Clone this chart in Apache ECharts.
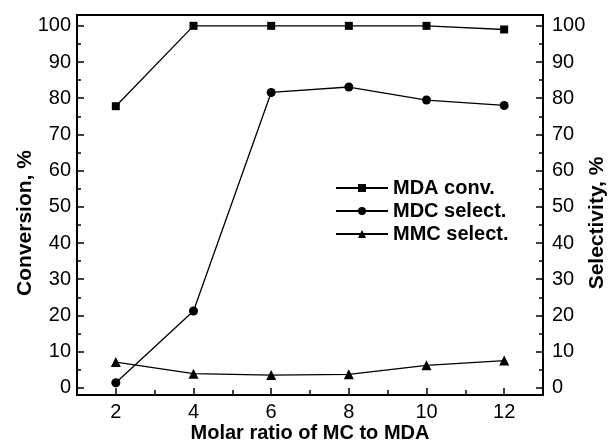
<!DOCTYPE html>
<html>
<head>
<meta charset="utf-8">
<script src="https://cdn.jsdelivr.net/npm/echarts@6/dist/echarts.min.js"></script>
<style>
  html, body { margin: 0; padding: 0; background: #fff; }
  #chart { width: 609px; height: 442px; }
</style>
</head>
<body>
<div id="chart"></div>
<script>
// molar ratio MC : MDA
var ratios = [2, 4, 6, 8, 10, 12];
// values, %
var mdaConv = [77.8, 100, 100, 100, 100, 99.0];
var mdcSelect = [1.4, 21.2, 81.6, 83.1, 79.5, 78.0];
var mmcSelect = [7.1, 3.9, 3.5, 3.7, 6.2, 7.5];

var seriesNames = ['MDA conv.', 'MDC select.', 'MMC select.'];
var yLabels = [0, 10, 20, 30, 40, 50, 60, 70, 80, 90, 100];
var yMinor = [5, 15, 25, 35, 45, 55, 65, 75, 85, 95];
var xLabels = [2, 4, 6, 8, 10, 12];
var xMinor = [3, 5, 7, 9, 11];

function pairs(vals) {
  return ratios.map(function (r, i) { return [r, vals[i]]; });
}

var chart = echarts.init(document.getElementById('chart'));
var font = 'Liberation Sans, Arial, sans-serif';
var titleStyle = { fontFamily: font, fontSize: 21, fontWeight: 'bold', color: '#000' };

function yAxisCfg(pos, title, gap, margin) {
  return {
    type: 'value',
    position: pos,
    min: -2,
    max: 103,
    name: title,
    nameLocation: 'middle',
    nameGap: gap,
    nameMoveOverlap: false,
    nameTextStyle: Object.assign({ padding: [0, 36, 0, 0] }, titleStyle),
    axisLine: { show: true, lineStyle: { color: '#000', width: 2 } },
    axisTick: { show: true, inside: true, length: 7, customValues: yLabels, lineStyle: { color: '#000', width: 1.5 } },
    axisLabel: { customValues: yLabels, fontFamily: font, fontSize: 20, color: '#000', margin: margin },
    splitLine: { show: false }
  };
}

// extra axes that only carry the short minor ticks
function yMinorCfg(pos) {
  return {
    type: 'value', position: pos, min: -2, max: 103,
    axisLine: { show: false },
    axisTick: { show: true, inside: true, length: 4, customValues: yMinor, lineStyle: { color: '#000', width: 1.5 } },
    axisLabel: { show: false },
    splitLine: { show: false }
  };
}

var option = {
  animation: false,
  backgroundColor: '#fff',
  grid: {
    left: 77, right: 66, top: 15, bottom: 47,
    outerBoundsMode: 'none',
    show: true, borderColor: '#000', borderWidth: 2
  },
  legend: {
    orient: 'vertical',
    left: 330,
    top: 173,
    itemWidth: 52,
    itemHeight: 10,
    itemGap: 3,
    data: seriesNames,
    textStyle: { fontFamily: font, fontSize: 20, fontWeight: 'bold', color: '#000' }
  },
  xAxis: [
    {
      type: 'value',
      min: 1,
      max: 13,
      name: 'Molar ratio of MC to MDA',
      nameLocation: 'middle',
      nameGap: 28,
      nameMoveOverlap: false,
      nameTextStyle: { fontFamily: font, fontSize: 20, fontWeight: 'bold', color: '#000' },
      axisLine: { show: true, onZero: false, lineStyle: { color: '#000', width: 2 } },
      axisTick: { show: true, inside: true, length: 7, customValues: xLabels, lineStyle: { color: '#000', width: 1.5 } },
      axisLabel: { customValues: xLabels, fontFamily: font, fontSize: 20, color: '#000', margin: 7 },
      splitLine: { show: false }
    },
    {
      type: 'value', min: 1, max: 13, position: 'bottom',
      axisLine: { show: false, onZero: false },
      axisTick: { show: true, inside: true, length: 5, customValues: xMinor, lineStyle: { color: '#000', width: 1.5 } },
      axisLabel: { show: false },
      splitLine: { show: false }
    }
  ],
  yAxis: [
    yAxisCfg('left', 'Conversion, %', 41, 6),
    yAxisCfg('right', 'Selectivity, %', 44, 9),
    yMinorCfg('left'),
    yMinorCfg('right')
  ],
  series: [
    {
      name: seriesNames[0], type: 'line', yAxisIndex: 0,
      data: pairs(mdaConv),
      symbol: 'rect', symbolSize: 8,
      lineStyle: { color: '#000', width: 1.3 },
      itemStyle: { color: '#000' }
    },
    {
      name: seriesNames[1], type: 'line', yAxisIndex: 1,
      data: pairs(mdcSelect),
      symbol: 'circle', symbolSize: 9,
      lineStyle: { color: '#000', width: 1.3 },
      itemStyle: { color: '#000' }
    },
    {
      name: seriesNames[2], type: 'line', yAxisIndex: 1,
      data: pairs(mmcSelect),
      symbol: 'triangle', symbolSize: 10,
      lineStyle: { color: '#000', width: 1.3 },
      itemStyle: { color: '#000' }
    }
  ]
};

chart.setOption(option);
</script>
</body>
</html>
